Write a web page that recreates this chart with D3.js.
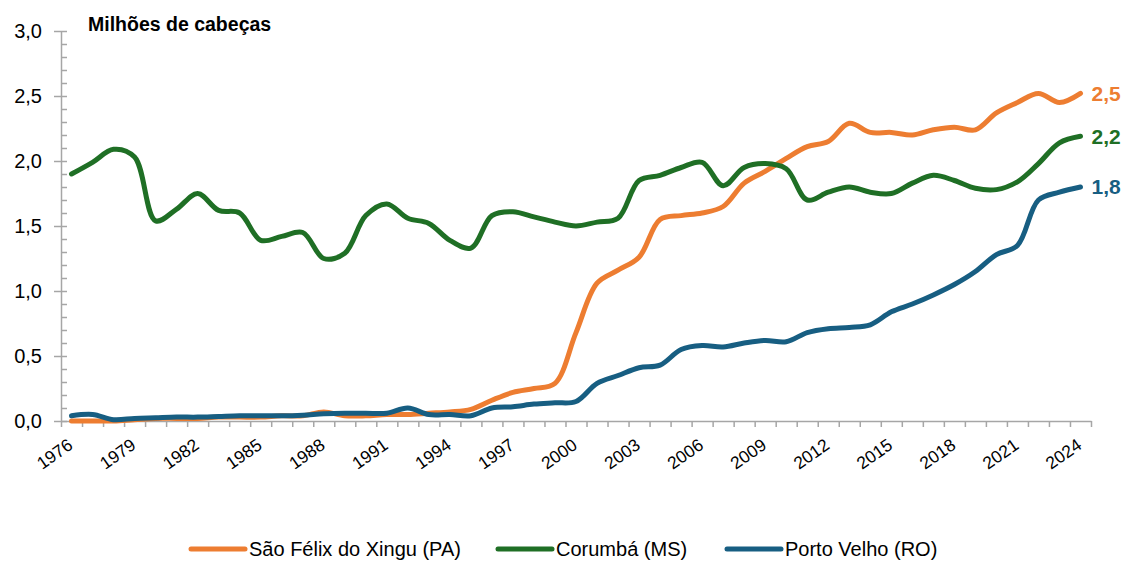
<!doctype html>
<html>
<head>
<meta charset="utf-8">
<style>
    body { margin: 0; background: #fff; }
    svg text { font-family: "Liberation Sans", Arial, sans-serif; fill: #000; }
    .axis path, .axis line { stroke: #a6a6a6; stroke-width: 1.5; }
    .line { fill: none; stroke-width: 5; stroke-linecap: round; stroke-linejoin: round; }
</style>
<script src="https://d3js.org/d3.v7.min.js"></script>
</head>
<body>
<svg width="1122" height="561"></svg>
<script>

    // data (millions of head)
    var years = d3.range(1976, 2025);
    var labelYears = [1976, 1979, 1982, 1985, 1988, 1991, 1994, 1997, 2000, 2003, 2006, 2009, 2012, 2015, 2018, 2021, 2024];
    var yTicks = [0, 0.5, 1.0, 1.5, 2.0, 2.5, 3.0];

    var saoFelix = [0.00, 0.00, 0.00, 0.01, 0.02, 0.02, 0.02, 0.03, 0.03, 0.03, 0.04, 0.04,
                    0.07, 0.04, 0.04, 0.05, 0.05, 0.06, 0.07, 0.09, 0.16, 0.22, 0.25, 0.29,
                    0.68, 1.06, 1.16, 1.26, 1.55, 1.58, 1.60, 1.65, 1.83, 1.92, 2.02, 2.11,
                    2.15, 2.29, 2.22, 2.22, 2.20, 2.24, 2.26, 2.24, 2.37, 2.45, 2.52, 2.45, 2.52];
    var corumba = [1.90, 1.99, 2.09, 2.03, 1.54, 1.63, 1.75, 1.62, 1.60, 1.39, 1.42, 1.45,
                   1.25, 1.29, 1.58, 1.67, 1.56, 1.52, 1.39, 1.33, 1.58, 1.61, 1.57, 1.53,
                   1.50, 1.53, 1.56, 1.85, 1.89, 1.95, 1.99, 1.81, 1.95, 1.98, 1.94, 1.70,
                   1.76, 1.80, 1.76, 1.75, 1.83, 1.89, 1.85, 1.79, 1.78, 1.84, 1.98, 2.14, 2.19];
    var portoVelho = [0.04, 0.05, 0.01, 0.02, 0.025, 0.03, 0.03, 0.035, 0.04, 0.04, 0.04, 0.045,
                      0.055, 0.06, 0.06, 0.06, 0.10, 0.05, 0.05, 0.04, 0.10, 0.11, 0.13, 0.14,
                      0.15, 0.29, 0.35, 0.41, 0.43, 0.55, 0.58, 0.57, 0.60, 0.62, 0.61, 0.68,
                      0.71, 0.72, 0.74, 0.84, 0.90, 0.97, 1.05, 1.15, 1.28, 1.35, 1.70, 1.76, 1.80];

    var series = [
        { name: "São Félix do Xingu (PA)", values: saoFelix, color: "#ed7d31", label: "2,5" },
        { name: "Corumbá (MS)", values: corumba, color: "#1f6f25", label: "2,2" },
        { name: "Porto Velho (RO)", values: portoVelho, color: "#175e82", label: "1,8" }
    ];

    var svg = d3.select("svg");

    var x = d3.scaleLinear().domain([1975.5, 2024.5]).range([61, 1091]);
    var y = d3.scaleLinear().domain([0, 3]).range([421, 31]);
    var comma = function(d) { return d3.format(".1f")(d).replace(".", ","); };

    // y axis: major ticks with labels, minor ticks every 0.1
    var yAxis = svg.append("g")
        .attr("class", "axis")
        .attr("transform", "translate(61,0)")
        .call(d3.axisLeft(y).tickValues(yTicks).tickSize(7).tickPadding(12).tickFormat(comma));
    yAxis.select(".domain").remove();
    yAxis.selectAll("text").attr("font-size", "20px");

    svg.append("g")
        .attr("class", "axis")
        .attr("transform", "translate(61,0)")
        .call(d3.axisRight(y).ticks(30).tickSize(6).tickSizeOuter(0).tickFormat(""));

    // x axis: ticks on the category boundaries
    var bounds = years.map(function(d) { return d - 0.5; }).concat([2024.5]);
    svg.append("g")
        .attr("class", "axis")
        .attr("transform", "translate(0,421)")
        .call(d3.axisBottom(x).tickValues(bounds).tickSize(6).tickSizeOuter(0).tickFormat(""));

    svg.append("g").selectAll("text")
        .data(labelYears)
        .enter().append("text")
        .attr("text-anchor", "end")
        .attr("font-size", "17.5px")
        .attr("transform", function(d) { return "translate(" + (x(d) - 5) + ",437) rotate(-35)"; })
        .attr("dy", "0.75em")
        .text(function(d) { return d; });

    // title
    svg.append("text")
        .attr("x", 88)
        .attr("y", 31)
        .attr("font-size", "19.5px")
        .attr("font-weight", "bold")
        .text("Milhões de cabeças");

    // lines
    var line = d3.line()
        .x(function(d, i) { return x(years[i]); })
        .y(function(d) { return y(d); })
        .curve(d3.curveCatmullRom.alpha(0.5));

    svg.selectAll(".line")
        .data(series)
        .enter().append("path")
        .attr("class", "line")
        .attr("stroke", function(d) { return d.color; })
        .attr("d", function(d) { return line(d.values); });

    // end labels
    svg.selectAll(".endlabel")
        .data(series)
        .enter().append("text")
        .attr("class", "endlabel")
        .attr("x", x(2024) + 11)
        .attr("y", function(d) { return y(d.values[d.values.length - 1]); })
        .attr("dy", "0.35em")
        .attr("font-size", "21px")
        .attr("font-weight", "bold")
        .style("fill", function(d) { return d.color; })
        .text(function(d) { return d.label; });

    // legend
    var legendX = [191, 498, 727];
    var legend = svg.selectAll(".legend")
        .data(series)
        .enter().append("g")
        .attr("class", "legend")
        .attr("transform", function(d, i) { return "translate(" + legendX[i] + ",549)"; });

    legend.append("line")
        .attr("x1", 0).attr("x2", 54)
        .attr("stroke", function(d) { return d.color; })
        .attr("stroke-width", 5)
        .attr("stroke-linecap", "round");

    legend.append("text")
        .attr("x", 58)
        .attr("dy", "0.35em")
        .attr("font-size", "20px")
        .text(function(d) { return d.name; });

</script>
</body>
</html>
